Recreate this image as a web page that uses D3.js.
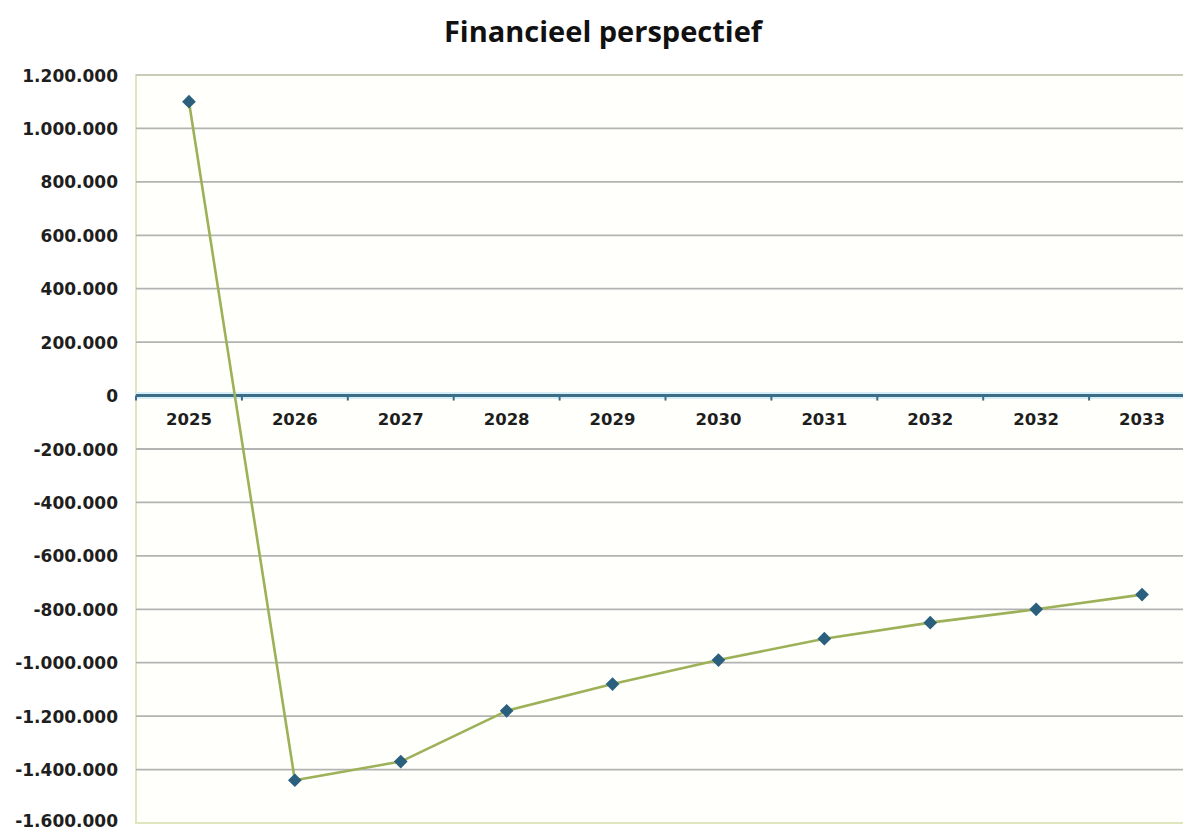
<!DOCTYPE html>
<html>
<head>
<meta charset="utf-8">
<script src="https://cdn.jsdelivr.net/npm/d3@7"></script>
<style>
  html, body { margin: 0; padding: 0; background: #ffffff; }
  svg { display: block; }
</style>
</head>
<body>
<svg id="chart" width="1183" height="832"></svg>
<script>
// Jaarlijkse saldi (euro)
const years = ["2025", "2026", "2027", "2028", "2029", "2030", "2031", "2032", "2032", "2033"];
const saldo = [1100000, -1440000, -1370000, -1180000, -1080000, -990000, -910000, -850000, -800000, -745000];
const yTicks = [1200000, 1000000, 800000, 600000, 400000, 200000, 0, -200000, -400000, -600000, -800000, -1000000, -1200000, -1400000, -1600000];
const title = "Financieel perspectief";

const svg = d3.select("#chart");
const plot = { left: 136, right: 1195, top: 75, bottom: 823 };

const nl = d3.formatLocale({ decimal: ",", thousands: ".", grouping: [3], currency: ["€", ""], minus: "-" });
const fmt = nl.format(",d");

const x = d3.scaleBand().domain(d3.range(years.length)).range([plot.left, plot.right]).paddingInner(0).paddingOuter(0);
const y = d3.scaleLinear().domain([-1600000, 1200000]).range([plot.bottom, plot.top]);

// plot area
svg.append("rect")
  .attr("x", plot.left).attr("y", plot.top)
  .attr("width", plot.right - plot.left).attr("height", plot.bottom - plot.top)
  .attr("fill", "#fffffb").attr("stroke", "#dfe5bd").attr("stroke-width", 2);

// horizontal gridlines + value labels
const yAxis = d3.axisLeft(y).tickValues(yTicks).tickFormat(fmt).tickSize(0).tickPadding(18);
const gy = svg.append("g").attr("transform", `translate(${plot.left},0)`).call(yAxis);
gy.select(".domain").remove();
gy.selectAll("text")
  .attr("font-family", "DejaVu Sans").attr("font-weight", "bold").attr("font-size", 17)
  .attr("fill", "#1e1e1e").attr("dy", "0.36em");
// lowest label sits a little higher so it stays inside the frame
gy.selectAll(".tick").filter(d => d === -1600000).select("text").attr("y", -3);

svg.append("g").selectAll("line")
  .data(yTicks.filter(v => v !== 0 && v !== 1200000 && v !== -1600000))
  .join("line")
  .attr("x1", plot.left).attr("x2", plot.right)
  .attr("y1", d => y(d)).attr("y2", d => y(d))
  .attr("stroke", "#b3b3b3").attr("stroke-width", 1.8);

svg.append("line")
  .attr("x1", plot.left).attr("x2", plot.right)
  .attr("y1", y(1200000)).attr("y2", y(1200000))
  .attr("stroke", "#c9ccb8").attr("stroke-width", 2);

// category axis on the zero line
const y0 = y(0);
svg.append("line")
  .attr("x1", plot.left).attr("x2", plot.right)
  .attr("y1", y0).attr("y2", y0)
  .attr("stroke", "#d6eef7").attr("stroke-width", 7);
svg.append("line")
  .attr("x1", plot.left).attr("x2", plot.right)
  .attr("y1", y0).attr("y2", y0)
  .attr("stroke", "#3b6e86").attr("stroke-width", 3);

const boundaries = d3.range(years.length + 1).map(i => plot.left + i * x.step());
svg.append("g").selectAll("line")
  .data(boundaries)
  .join("line")
  .attr("x1", d => d).attr("x2", d => d)
  .attr("y1", y0).attr("y2", y0 + 5)
  .attr("stroke", "#3b6e86").attr("stroke-width", 2);

const xAxis = d3.axisBottom(x).tickFormat(i => years[i]).tickSize(0).tickPadding(18);
const gx = svg.append("g").attr("transform", `translate(0,${y0})`).call(xAxis);
gx.select(".domain").remove();
gx.selectAll("text")
  .attr("font-family", "DejaVu Sans").attr("font-weight", "bold").attr("font-size", 16.5)
  .attr("fill", "#1e1e1e");

// series line
const cx = i => x(i) + x.bandwidth() / 2;
const line = d3.line().x((d, i) => cx(i)).y(d => y(d));
svg.append("path")
  .datum(saldo)
  .attr("d", line)
  .attr("fill", "none")
  .attr("stroke", "#9db158").attr("stroke-width", 2.6)
  .attr("stroke-linejoin", "round");

// diamond markers
const diamond = d3.symbol().type(d3.symbolDiamond2).size(120);
svg.append("g").selectAll("path")
  .data(saldo)
  .join("path")
  .attr("d", diamond)
  .attr("transform", (d, i) => `translate(${cx(i)},${y(d)})`)
  .attr("fill", "#2b5f7e");

// title
svg.append("text")
  .attr("x", 603).attr("y", 42)
  .attr("text-anchor", "middle")
  .attr("font-family", "Open Sans").attr("font-weight", "bold").attr("font-size", 29)
  .attr("fill", "#111")
  .text(title);
</script>
</body>
</html>
